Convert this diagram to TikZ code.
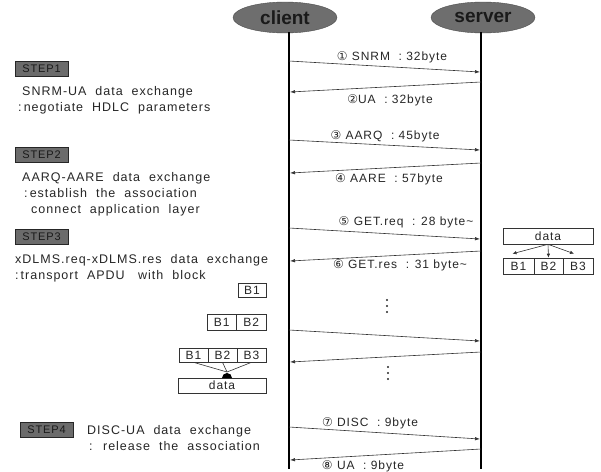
\documentclass[tikz,border=0pt]{standalone}
\usepackage{fontspec}
\setmainfont{Liberation Sans}
\newfontfamily\spaced[LetterSpace=8]{Liberation Sans}
\newfontfamily\cnumfont{DejaVu Sans}
\usetikzlibrary{arrows.meta,shapes.geometric}
\newcommand{\cn}[1]{{\cnumfont\fontsize{12}{12}\selectfont #1}}
\definecolor{actorfill}{HTML}{6E6E6E}
\definecolor{actortext}{HTML}{1A1A1A}
\begin{document}
\begin{tikzpicture}[x=1pt,y=-1pt,
  actor/.style={ellipse, fill=actorfill, draw=black!70, minimum width=104pt, minimum height=31pt, inner sep=0pt,
    font=\bfseries\fontsize{19}{19}\selectfont},
  life/.style={line width=1.6pt, black},
  stepbox/.style={draw=black!85, fill=black!58, line width=0.8pt, minimum width=53pt, minimum height=15pt, inner sep=0pt,
    text=black!90, font=\spaced\fontsize{11}{11}\selectfont},
  desc/.style={anchor=north west, align=left, inner sep=0pt, text=black!85,
    font=\spaced\fontsize{12.5}{16}\selectfont},
  msg/.style={-{Latex[length=5pt,width=3.5pt]}, black!80, line width=0.6pt},
  lbl/.style={inner sep=0pt, text=black!85, font=\spaced\fontsize{12}{12}\selectfont},
  blk/.style={draw=black!80, line width=0.6pt, inner sep=0pt, text=black!85, font=\spaced\fontsize{12}{12}\selectfont},
  small/.style={-{Latex[length=4pt,width=3.5pt]}, black!80, line width=0.6pt}
]
\useasboundingbox (0,0) rectangle (601,471);

% actors
\node[actor] (client) at (285,17.5) {\textcolor{actortext}{client}};
\node[actor] (server) at (483,17.5) {\textcolor{actortext}{server}};
\coordinate (ctop) at (289,32);
\coordinate (cbot) at (289,469);
\coordinate (stop) at (481,32);
\coordinate (sbot) at (481,469);
\draw[life] (ctop) -- (cbot);
\draw[life] (stop) -- (sbot);

% message end points
\coordinate (m1a) at (289,61);  \coordinate (m1b) at (480,72);
\coordinate (m2a) at (481,82);  \coordinate (m2b) at (290,92);
\coordinate (m3a) at (289,140); \coordinate (m3b) at (480,150);
\coordinate (m4a) at (481,163); \coordinate (m4b) at (290,173);
\coordinate (m5a) at (289,228); \coordinate (m5b) at (480,239);
\coordinate (m6a) at (481,251); \coordinate (m6b) at (290,261);
\coordinate (m7a) at (289,330); \coordinate (m7b) at (480,341);
\coordinate (m8a) at (481,352); \coordinate (m8b) at (290,362);
\coordinate (m9a) at (289,427); \coordinate (m9b) at (480,439);
\coordinate (m10a) at (481,449); \coordinate (m10b) at (290,460);

\draw[msg] (m1a) -- (m1b);
\draw[msg] (m2a) -- (m2b);
\draw[msg] (m3a) -- (m3b);
\draw[msg] (m4a) -- (m4b);
\draw[msg] (m5a) -- (m5b);
\draw[msg] (m6a) -- (m6b);
\draw[msg] (m7a) -- (m7b);
\draw[msg] (m8a) -- (m8b);
\draw[msg] (m9a) -- (m9b);
\draw[msg] (m10a) -- (m10b);

% message labels
\node[lbl] (l1) at (392,57) {\cn{①} SNRM \ : 32byte};
\node[lbl] (l2) at (390,100) {\cn{②}UA \ : 32byte};
\node[lbl] (l3) at (385,136) {\cn{③} AARQ \ : 45byte};
\node[lbl] (l4) at (389,179) {\cn{④} AARE \ : 57byte};
\node[lbl] (l5) at (406,222) {\cn{⑤} GET.req \ : 28 byte\textasciitilde};
\node[lbl] (l6) at (400,265) {\cn{⑥} GET.res \ : 31 byte\textasciitilde};
\node[lbl] (l7) at (370,423) {\cn{⑦} DISC \ : 9byte};
\node[lbl] (l8) at (363,466) {\cn{⑧} UA \ : 9byte};

% dots
\foreach \yy in {300,306,312} \fill[black!85] (387,\yy) circle (1.2pt);
\foreach \yy in {367,373,379} \fill[black!85] (388,\yy) circle (1.2pt);

% steps
\node[stepbox] (s1) at (41.5,69) {STEP1};
\node[desc] (d1) at (18,86) {\hspace*{4pt}SNRM-UA \ data \ exchange\\:\,negotiate \ HDLC \ parameters};
\node[stepbox] (s2) at (41.5,154.5) {STEP2};
\node[desc] (d2) at (22,172) {AARQ-AARE \ data \ exchange\\\hspace*{2pt}:\,establish \ the \ association\\\hspace*{9pt}connect \ application \ layer};
\node[stepbox] (s3) at (41.5,236.5) {STEP3};
\node[desc] (d3) at (15,254) {xDLMS.req-xDLMS.res \ data \ exchange\\:\,transport \ APDU \ \ with \ block};
\node[stepbox] (s4) at (46.5,430) {STEP4};
\node[desc] (d4) at (87,425) {DISC-UA \ data \ exchange\\\hspace*{2pt}: \ release \ the \ association};

% left block assembly
\node[blk, minimum width=28pt, minimum height=14pt] (b1) at (252,290) {B1};
\node[blk, minimum width=29.5pt, minimum height=16pt] (c1) at (221.75,322) {B1};
\node[blk, minimum width=29.5pt, minimum height=16pt] (c2) at (251.25,322) {B2};
\node[blk, minimum width=29pt, minimum height=14pt] (e1) at (193.5,355) {B1};
\node[blk, minimum width=29pt, minimum height=14pt] (e2) at (222.5,355) {B2};
\node[blk, minimum width=29pt, minimum height=14pt] (e3) at (251.5,355) {B3};
\node[blk, minimum width=88pt, minimum height=15pt] (dl) at (222,385.5) {data};
\coordinate (join) at (227,372);
\fill[black] (222,378) arc[start angle=180, end angle=0, radius=5pt] -- cycle;
\draw[black!80, line width=0.6pt] (e1.south) -- (join);
\draw[black!80, line width=0.6pt] (e2.south) -- (join);
\draw[black!80, line width=0.6pt] (e3.south) -- (join);

% right split
\node[blk, minimum width=90pt, minimum height=16pt] (dr) at (548,236) {data};
\node[blk, minimum width=31pt, minimum height=16pt] (r1) at (518.5,266) {B1};
\node[blk, minimum width=29pt, minimum height=16pt] (r2) at (548.5,266) {B2};
\node[blk, minimum width=30pt, minimum height=16pt] (r3) at (578,266) {B3};
\draw[small] (dr.south) -- ([xshift=-6pt,yshift=4pt]r1.north);
\draw[small] (dr.south) -- (r2.north);
\draw[small] (dr.south) -- ([xshift=-4pt,yshift=4pt]r3.north);
\end{tikzpicture}
\end{document}
